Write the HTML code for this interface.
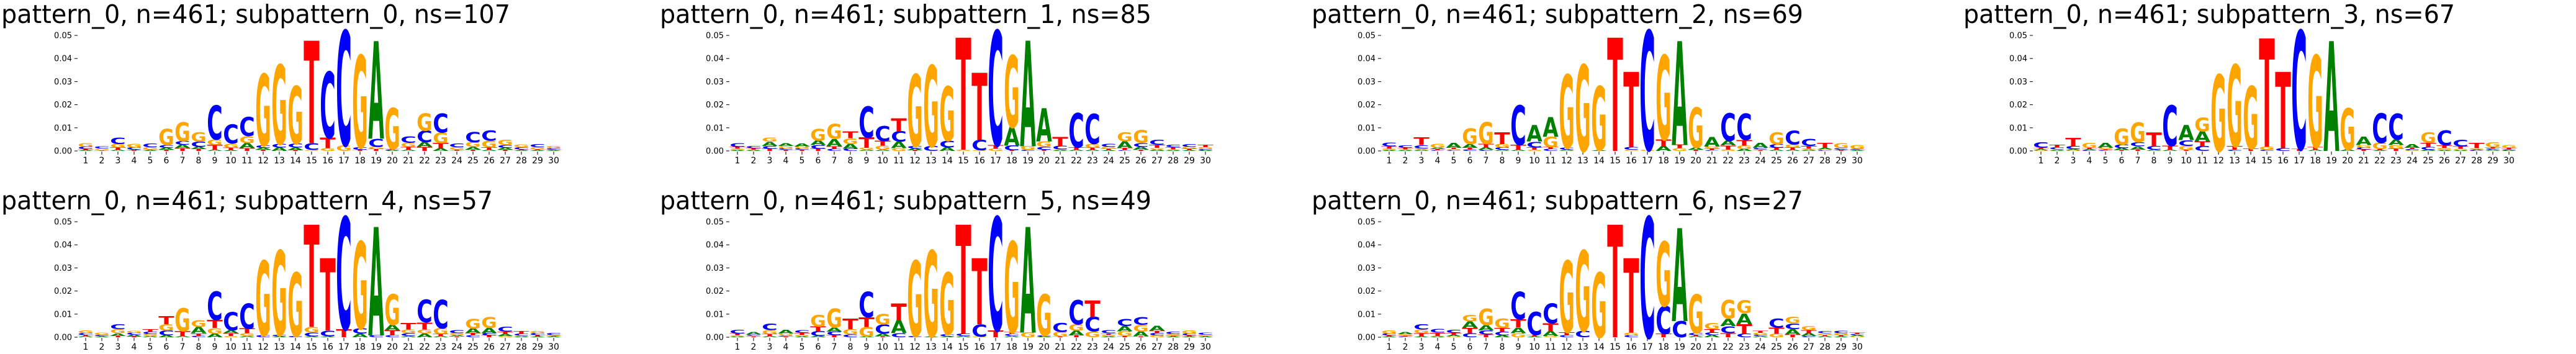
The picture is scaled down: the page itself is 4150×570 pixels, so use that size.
<!DOCTYPE html>
<html><head><meta charset="utf-8"><style>
html,body{margin:0;padding:0;background:#fff;width:4150px;height:570px;overflow:hidden;}
svg{display:block;overflow:hidden;}
text{font-family:"DejaVu Sans","Liberation Sans",sans-serif;}
</style></head><body>
<svg id="fig" xmlns="http://www.w3.org/2000/svg" width="4150" height="570" viewBox="0 0 4150 570"></svg>
<script>
// values in units of 0.001, order [A,C,G,T] per position 1..30
const titles = [
 "pattern_0, n=461; subpattern_0, ns=107",
 "pattern_0, n=461; subpattern_1, ns=85",
 "pattern_0, n=461; subpattern_2, ns=69",
 "pattern_0, n=461; subpattern_3, ns=67",
 "pattern_0, n=461; subpattern_4, ns=57",
 "pattern_0, n=461; subpattern_5, ns=49",
 "pattern_0, n=461; subpattern_6, ns=27"
];
const letters = ["A","C","G","T"];
const yTicks = [0,0.01,0.02,0.03,0.04,0.05];
const yTickLabels = ["0.00","0.01","0.02","0.03","0.04","0.05"];
const positions = Array.from({length:30},(_,i)=>i+1);
const logo0 = [[.3,1,1.5,.5],[.2,.8,.7,.2],[.5,2.8,1.5,1],[.4,.8,1.5,.3],[.3,1.5,1,.3],[.8,1.2,7,.5],[1.5,1.5,8.2,1.2],[1,2.2,4,.8],[.5,14.7,2.5,2],[.4,8.2,1.8,1],[2.2,8.2,3,1.2],[.8,1,31,.5],[1.5,1.5,34.3,0],[1.2,1.7,24.8,.3],[0,3,.4,44.3],[0,28.5,1.2,4.5],[0,49.5,2.5,0],[0,1,39.9,.5],[42.2,3.5,1,.8],[.3,.3,17.6,.4],[.5,2.8,1.8,1.2],[2,5,7.5,1.8],[1.2,8.2,4.5,2.2],[.2,1.5,1,.4],[1.2,4.3,2,.5],[.5,4.3,3,1],[.8,1.2,2.2,.5],[.3,.9,1.2,.4],[.3,1.4,.9,.4],[.3,.6,.8,.3]];
const logo1 = [[.4,1.5,.6,.8],[.3,.8,.3,.6],[1.8,1.2,1.8,1],[1.2,.6,1,.5],[1.3,.6,.8,.5],[2,1.5,5,1],[3.2,.8,6.5,1.2],[2,1,2.5,3],[.5,13.5,.8,4.5],[.5,6.5,1.8,2],[2.8,4.5,1.2,5.5],[.8,1,31,.3],[0,2,35,0],[1.5,3,23.5,0],[0,0,.5,48.5],[0,4.5,.3,29],[0,49.5,1,1.5],[8,2,31,.3],[45.7,.5,1.5,0],[14.4,1.2,2.5,.5],[.3,1.5,.4,3.8],[.5,14.8,0,1],[.5,13,1.8,.8],[.4,1.3,.8,.6],[3,.4,3.8,.8],[1.3,1.5,5.5,.5],[.6,2,.7,1.4],[.3,1,.4,.9],[.3,1.2,.9,.6],[.3,.5,.8,1]];
const logo2 = [[.4,1.6,.6,1],[.3,1,.4,.6],[.5,1.4,.6,3.3],[.6,.4,1.8,.4],[2,.4,.4,.6],[1.5,.6,6.8,.8],[1,.5,9.4,1.5],[.5,1,1.5,5],[.5,17.2,0,2],[7.2,2.5,.5,1],[8.5,.8,4.5,.8],[.5,.8,31.7,0],[0,0,37.3,0],[.4,0,27.6,0],[0,0,0,49],[0,1.2,.5,32.5],[0,51.5,.5,0],[2,0,36.4,3],[44.8,0,1.2,1.5],[.8,0,17.3,.5],[4.2,.4,.8,.7],[2,11.9,.6,1.8],[.8,11.3,1.5,2.5],[2,.6,.4,.3],[.5,1.5,5.2,.8],[.5,6,1.3,1],[.5,3.2,.5,1.2],[.6,.3,.4,2],[.4,.5,2,.3],[.3,.4,1.5,.3]];
const logo3 = [[.5,2.5,.3,.5],[.3,.8,.4,1.2],[.5,1.3,.3,3.5],[.5,.3,2,.5],[2,.3,.6,.4],[.8,1.5,7,.4],[1.4,1.8,8.6,.6],[.5,1.5,0,6],[.5,17.4,0,1.8],[6.5,2.5,1.8,.4],[4.5,2,6,2],[0,0,33,0],[0,.5,35.3,1.5],[0,0,27,1],[0,.5,1.3,46.9],[0,1.2,0,33],[0,51.2,0,.8],[.5,0,39.7,1.2],[47.5,0,0,0],[.7,0,17.9,0],[3.7,.8,1,.7],[.4,12.8,2.7,.4],[2.5,11.1,1.5,1],[1.5,.5,.3,.6],[.6,1.2,4.5,1.7],[.4,6.4,.8,1.2],[.3,3,.6,1],[.4,.3,.5,2.2],[.5,.5,2,.6],[.3,.4,1.2,.6]];
const logo4 = [[.5,.8,1.2,.5],[.3,.5,.8,.3],[1.1,2,1.8,.6],[.8,.8,.8,.3],[.5,1,.8,1.2],[.8,2,2.8,3.5],[.5,0,9.9,2],[2.7,.6,3,1.1],[1.5,12.2,2.5,3.5],[1.3,7.9,.5,1.2],[.5,10.9,1.2,2],[0,.8,32.3,0],[.4,.6,36.5,0],[0,.5,27.5,0],[.4,1.6,2.5,44.2],[.4,2.5,0,31.3],[0,48.5,0,3.5],[1.6,2.2,37.6,0],[46.9,.8,0,0],[2.4,.8,13.2,2.2],[.5,1.2,1.6,2.8],[1.6,9.7,1.8,3],[.5,12.2,2.6,.8],[.5,1.3,.8,.4],[2,.8,4.2,1],[2.2,1,4.7,.8],[.8,2,.6,1],[.3,.9,.4,1],[.4,.8,.8,.6],[.3,.8,.4,.3]];
const logo5 = [[.3,1.6,.5,.8],[1,.5,.4,.3],[.5,2.7,1.8,.8],[1.5,.4,.9,.3],[.4,1.2,.6,.9],[.6,2,5,2],[1.8,1.5,8.2,.9],[0,1.2,2.3,4.5],[.3,11,4.2,4.2],[1.2,3.9,4.6,.4],[5.5,1.7,0,7.4],[0,.5,32.6,0],[.3,0,37.2,0],[.4,.9,26.7,0],[.5,1,0,47.2],[0,5.3,.3,28.6],[0,49,0,3],[.5,.8,39.3,.8],[45.7,0,2,0],[.3,.5,17.8,0],[0,3.8,2,.3],[2,10.5,2.8,.8],[0,6.3,2.5,7.1],[.4,1.3,.6,.7],[2.3,3.2,2,.5],[2,3.3,3,.4],[2,1,.8,1],[.3,1,.6,.4],[.3,.8,1.4,.5],[.3,.9,.5,.3]];
const logo6 = [[.4,.8,1.4,.4],[.8,.3,.6,.4],[.4,2.2,1.6,1.4],[.3,1.5,.3,1.4],[.6,1.4,.4,.9],[2.8,1.8,2.8,2.2],[2.3,1.8,7.1,1.2],[.8,1.5,4,1.7],[2.5,11.9,1.8,3.5],[.4,10,0,.5],[2,8.5,.6,3.5],[0,.8,30.9,1.4],[0,2.8,34.7,0],[0,0,28,0],[0,0,0,48.7],[0,.8,1.2,32.2],[0,52,0,0],[0,12,27.9,1.5],[40.2,7,0,0],[.5,.8,16.8,.5],[1,1.2,2.6,1.3],[3.2,3,8.1,1.8],[4.6,1.5,5.6,4.2],[.5,.6,.8,.8],[0,3.9,1.5,2.6],[2.3,2.5,2.7,1.2],[1.3,.5,1.8,1.3],[.5,.8,.7,.5],[.4,1,.8,.5],[.5,.5,.4,.6]];
const logos = [logo0,logo1,logo2,logo3,logo4,logo5,logo6];

const colors = {A:"#008000",C:"#0000ff",G:"#ffa500",T:"#ff0000"};
const adv = {A:0.774,C:0.734,G:0.821,T:0.682};
const NS="http://www.w3.org/2000/svg";
const svg=document.getElementById('fig');
function mk(tag,attrs,parent){const e=document.createElementNS(NS,tag);for(const k in attrs)e.setAttribute(k,attrs[k]);(parent||svg).appendChild(e);return e;}
const colW=1050,rowH=300,ppu=3720,step=26,letterW=25.5;
function titleLeft(i){return (i%4)*colW+((i%4)===0?2:13);}
logos.forEach((data,i)=>{
  const ox=(i%4)*colW, oy=Math.floor(i/4)*rowH;
  const xs=p=>ox+138+(p-1)*step;
  const ys=v=>oy+243-v*ppu;
  const g=mk('g',{});
  
  
  const tw = titles[i].length>=38 ? 820 : 792;
  const t=mk('text',{x:titleLeft(i),y:oy+37,'font-size':41,fill:'#000',textLength:tw,lengthAdjust:'spacingAndGlyphs'},g);
  
  
  t.textContent=titles[i];
  yTicks.forEach((v,k)=>{
    const l=mk('line',{x1:ox+120,x2:ox+125,y1:ys(v),y2:ys(v),stroke:'#000','stroke-width':1},g);
    
    
    const tl=mk('text',{x:ox+116,y:ys(v)+4.5,'font-size':13,'text-anchor':'end',fill:'#000'},g);
    
    
    tl.textContent=yTickLabels[k];
  });
  positions.forEach((p,k)=>{
    const l=mk('line',{x1:xs(p),x2:xs(p),y1:oy+244,y2:oy+249,stroke:'#000','stroke-width':1},g);
    
    
    const tl=mk('text',{x:xs(p),y:oy+263,'font-size':14,'text-anchor':'middle',fill:'#000'},g);
    
    
    tl.textContent=String(p);
    const vals=data[k].map((v,j)=>({L:letters[j],v:v/1000})).filter(o=>o.v>0).sort((a,b)=>a.v-b.v);
    let cum=0;
    vals.forEach(o=>{
      const h=o.v*ppu;
      const yb=ys(cum);
      const sx=letterW/(adv[o.L]*100), sy=h/72.9;
      const lt=mk('text',{transform:`translate(${xs(p)},${yb}) scale(${sx},${sy})`,'font-size':100,'font-weight':'bold','text-anchor':'middle',fill:colors[o.L]},g);
      
      
      lt.textContent=o.L;
      cum+=o.v;
    });
  });
});
</script>
</body></html>
